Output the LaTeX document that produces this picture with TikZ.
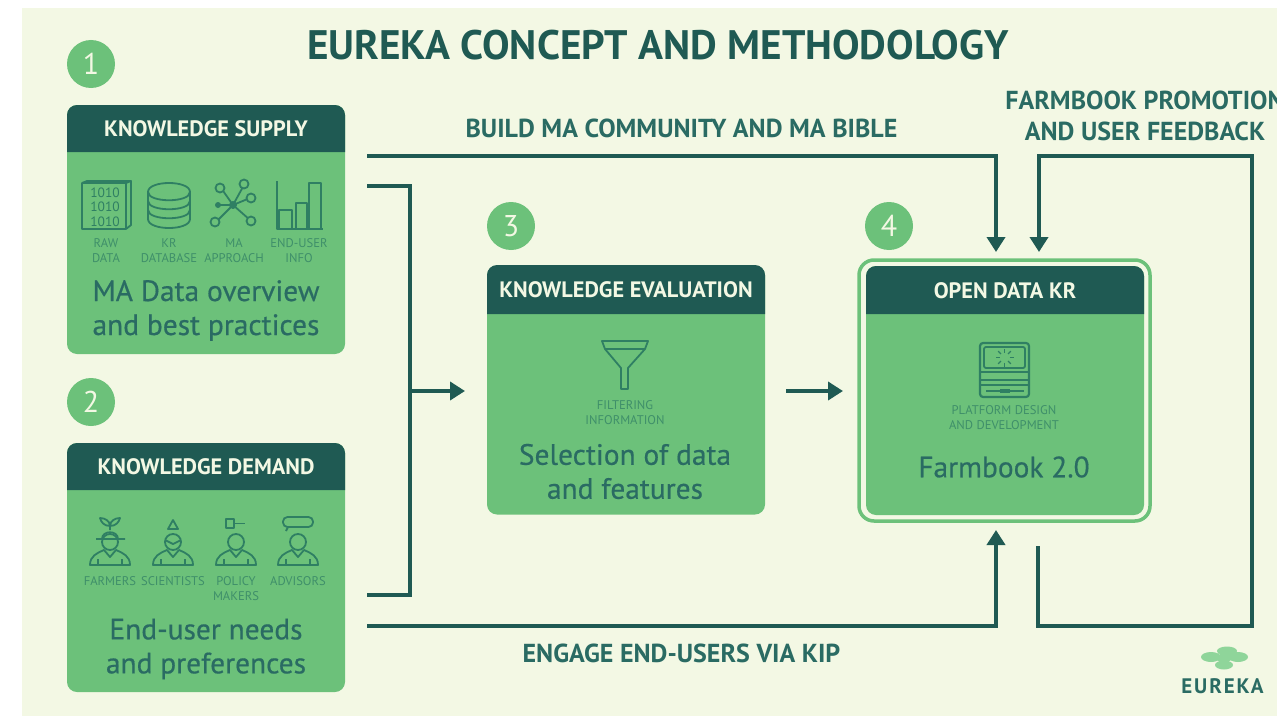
\documentclass[tikz,border=0pt]{standalone}
\usepackage{fontspec}
\setmainfont{PT Sans}
\usetikzlibrary{arrows.meta,positioning}
\definecolor{paper}{HTML}{F3F8E4}
\definecolor{leaf}{HTML}{6CC17A}
\definecolor{deep}{HTML}{1F5A53}
\definecolor{soft}{HTML}{2A6B63}
\definecolor{mid}{HTML}{3F8F6A}
\definecolor{line}{HTML}{2F7F63}
\definecolor{pale}{HTML}{8FD59A}
\tikzset{
  panel/.style={fill=leaf,draw=none,rounded corners=10pt,inner sep=0pt,outer sep=0pt,minimum width=278pt,minimum height=249pt},
  headfill/.style={fill=deep,draw=none},
  headtext/.style={text=paper,font=\fontsize{22.3}{25}\selectfont\bfseries,inner sep=0pt},
  bodytext/.style={text=soft,font=\fontsize{29.4}{34}\selectfont\addfontfeature{FakeBold=0.5},align=center,inner sep=0pt},
  tinytext/.style={text=mid,font=\fontsize{12.6}{15}\selectfont,align=center,inner sep=0pt},
  flowtext/.style={text=soft,font=\fontsize{26}{31}\selectfont\bfseries,align=center,inner sep=0pt},
  badge/.style={circle,fill=leaf,text=paper,minimum size=48pt,inner sep=0pt,font=\fontsize{30}{30}\selectfont},
  flow/.style={draw=deep,line width=4.6pt},
  flowarrow/.style={flow,-{Triangle[width=18pt,length=15pt]}},
  icon/.style={draw=line,line width=1.8pt,fill=none,line join=round},
}
\newcommand{\headbar}[4]{% x0 x1 ytop ybottom
  \fill[headfill] (#1,#4) [rounded corners=10pt] -- (#1,#3) -- (#2,#3) [sharp corners] -- (#2,#4) -- cycle;
}
\newcommand{\personbase}[1]{%
  \begin{scope}[shift={(#1,565)}]
    \draw[icon] (0,-23) circle (8);
    \draw[icon] (-20,0) .. controls (-20,-9) and (-13,-12) .. (-6,-15) -- (0,-8) -- (6,-15) .. controls (13,-12) and (20,-9) .. (20,0) -- cycle;
    \draw[icon] (-12,0) -- (-12,-6) (12,0) -- (12,-6);
  \end{scope}}
\begin{document}
\begin{tikzpicture}[x=1pt,y=-1pt]
\useasboundingbox (0,0) rectangle (1277,717);
\fill[paper] (22,8) rectangle (1277,716);

\node[text=deep,font=\fontsize{41.2}{44}\selectfont\bfseries,inner sep=0pt] (title) at (658,45.5) {EUREKA CONCEPT AND METHODOLOGY};

% connectors
\coordinate (bs) at (367,156);
\coordinate (bc) at (996,156);
\coordinate (bt) at (996,252);
\draw[flowarrow] (bs) -- (bc) -- (bt);
\coordinate (fs) at (1038,546);
\coordinate (f1) at (1038,626);
\coordinate (f2) at (1252,626);
\coordinate (f3) at (1252,156);
\coordinate (f4) at (1039,156);
\coordinate (ft) at (1039,252);
\draw[flowarrow] (fs) -- (f1) -- (f2) -- (f3) -- (f4) -- (ft);
\coordinate (m1) at (367,186);
\coordinate (m2) at (410,186);
\coordinate (m3) at (410,595);
\coordinate (m4) at (367,595);
\coordinate (mj) at (410,391);
\coordinate (mt) at (465,391);
\draw[flow] (m1) -- (m2) -- (m3) -- (m4);
\draw[flowarrow] (mj) -- (mt);
\coordinate (es) at (786,391);
\coordinate (et) at (843,391);
\draw[flowarrow] (es) -- (et);
\coordinate (ds) at (367,626);
\coordinate (dc) at (996,626);
\coordinate (dt) at (996,530);
\draw[flowarrow] (ds) -- (dc) -- (dt);

\node[flowtext] (lbuild) at (681.5,128.5) {BUILD MA COMMUNITY AND MA BIBLE};
\node[flowtext] (lfarm) at (1145,115.5) {FARMBOOK PROMOTION\\AND USER FEEDBACK};
\node[flowtext] (lengage) at (681.5,653.5) {ENGAGE END-USERS VIA KIP};

% badges
\node[badge] (b1) at (91,64) {1};
\node[badge] (b2) at (91,402) {2};
\node[badge] (b3) at (511,226) {3};
\node[badge] (b4) at (889,226) {4};

% knowledge supply
\node[panel] (supply) at (206,229.5) {};
\headbar{67}{345}{105}{152}
\node[headtext] (hsupply) at (206,129) {KNOWLEDGE SUPPLY};
% raw data icon
\draw[icon] (82,183) rectangle (126,229) (126,183) -- (131,181) -- (131,225) -- (126,229) (82,183) -- (87,181) -- (131,181);
\node[text=line,font=\fontsize{13.5}{14.5}\selectfont,align=center,inner sep=0pt] (bits) at (105,207) {1010\\1010\\1010};
% database icon
\draw[icon] (148,192) .. controls (148,180) and (190,180) .. (190,192) .. controls (190,203) and (148,203) .. (148,192)
  (148,192) -- (148,219) .. controls (148,231) and (190,231) .. (190,219) -- (190,192)
  (148,201) .. controls (148,212) and (190,212) .. (190,201)
  (148,210) .. controls (148,221) and (190,221) .. (190,210);
% network icon
\coordinate (nc) at (233,205);
\draw[icon] (nc) circle (3) (nc) -- (221,188) (nc) -- (244,185) (nc) -- (250,198) (nc) -- (250,220) (nc) -- (217,221) (nc) -- (218,205);
\draw[icon,fill=leaf] (220,188) circle (4.5) (244,184) circle (4.5) (251,198) circle (4.5) (251,221) circle (4.5) (215,222) circle (4.5);
\fill[line] (218,205) circle (3);
\fill[line] (nc) circle (3);
% bars icon
\draw[icon] (277,181) -- (277,229) -- (323,229) (279,210) rectangle (292,229) (296,203) rectangle (307,229) (309,183) rectangle (321,229);
\node[tinytext] (t1) at (106,250.5) {RAW\\DATA};
\node[tinytext] (t2) at (169,250.5) {KR\\DATABASE};
\node[tinytext] (t3) at (234,250.5) {MA\\APPROACH};
\node[tinytext] (t4) at (299,250.5) {END-USER\\INFO};
\node[bodytext] (msupply) at (206,310.5) {MA Data overview\\and best practices};

% knowledge demand
\node[panel] (demand) at (206,567.5) {};
\headbar{67}{345}{443}{490}
\node[headtext] (hdemand) at (206,467) {KNOWLEDGE DEMAND};
\personbase{110}
\personbase{173}
\personbase{236}
\personbase{298}
% farmer hat and sprout
\draw[icon] (96,539) -- (125,539) (102,539) .. controls (102,530) and (118,530) .. (118,539);
\draw[icon] (110,530) -- (110,525) (110,526) .. controls (104,526) and (101,522) .. (100,518) .. controls (105,518) and (110,521) .. (110,526) .. controls (110,521) and (115,518) .. (120,518) .. controls (119,522) and (116,526) .. (110,526);
% scientist flask and goggles
\draw[icon] (173,520) -- (168,529) -- (178,529) -- cycle;
\draw[icon] (165,540) -- (173,544) -- (181,540);
% policy key
\draw[icon] (226,519) rectangle (234,528) (234,523.5) -- (245,523.5);
% advisor bubble
\draw[icon,rounded corners=4.5pt] (283,517) rectangle (313,527);
\draw[icon] (288,527) -- (286,531);
\node[tinytext] (d1) at (110,581) {FARMERS};
\node[tinytext] (d2) at (173,581) {SCIENTISTS};
\node[tinytext] (d3) at (236,588.5) {POLICY\\MAKERS};
\node[tinytext] (d4) at (298,581) {ADVISORS};
\node[bodytext] (mdemand) at (206,649) {End-user needs\\and preferences};

% knowledge evaluation
\node[panel] (evalbox) at (626,390) {};
\headbar{487}{765}{265}{314}
\node[headtext] (heval) at (626,290) {KNOWLEDGE EVALUATION};
\draw[icon] (602,341) -- (648,341) -- (645,349) -- (605,349) -- cycle;
\draw[icon] (605,349) -- (621,368) -- (621,389) -- (628,389) -- (628,368) -- (645,349);
\node[tinytext] (e1) at (625,412.5) {FILTERING\\INFORMATION};
\node[bodytext] (meval) at (625,471.5) {Selection of data\\and features};

% open data KR
\draw[draw=leaf,line width=3.5pt,rounded corners=15pt] (859,260) rectangle (1150,521);
\node[panel,minimum width=278pt,minimum height=249pt] (openbox) at (1005,390.5) {};
\headbar{866}{1144}{266}{314}
\node[headtext] (hopen) at (1005,291) {OPEN DATA KR};
\draw[icon,rounded corners=3pt,line width=2.2pt] (980,343) rectangle (1029,397);
\draw[icon,rounded corners=2pt] (984,347) rectangle (1025,368);
\draw[icon] (980,372) -- (1029,372) (980,380) -- (1029,380) (980,385) -- (1029,385) (986,391) -- (1000,391) (1010,391) -- (1024,391);
\fill[line] (1000,389) rectangle (1010,393);
\foreach \a in {0,45,...,315}
  \draw[icon,line width=1.3pt] (1004.5,357.5) ++(\a:5) -- ++(\a:4);
\node[tinytext] (o1) at (1004,417.5) {PLATFORM DESIGN\\AND DEVELOPMENT};
\node[bodytext] (mopen) at (1004,467) {Farmbook 2.0};

% logo
\fill[pale] (1211,657) ellipse (10 and 5) (1238,657) ellipse (10 and 5) (1227,651) ellipse (10 and 4.5) (1224,665) ellipse (9 and 4.5) (1224,658) ellipse (8 and 4);
\node[text=soft,font=\fontsize{21}{22}\selectfont\bfseries\addfontfeature{LetterSpace=9},inner sep=0pt] (logo) at (1222.5,686) {EUREKA};
\end{tikzpicture}
\end{document}
